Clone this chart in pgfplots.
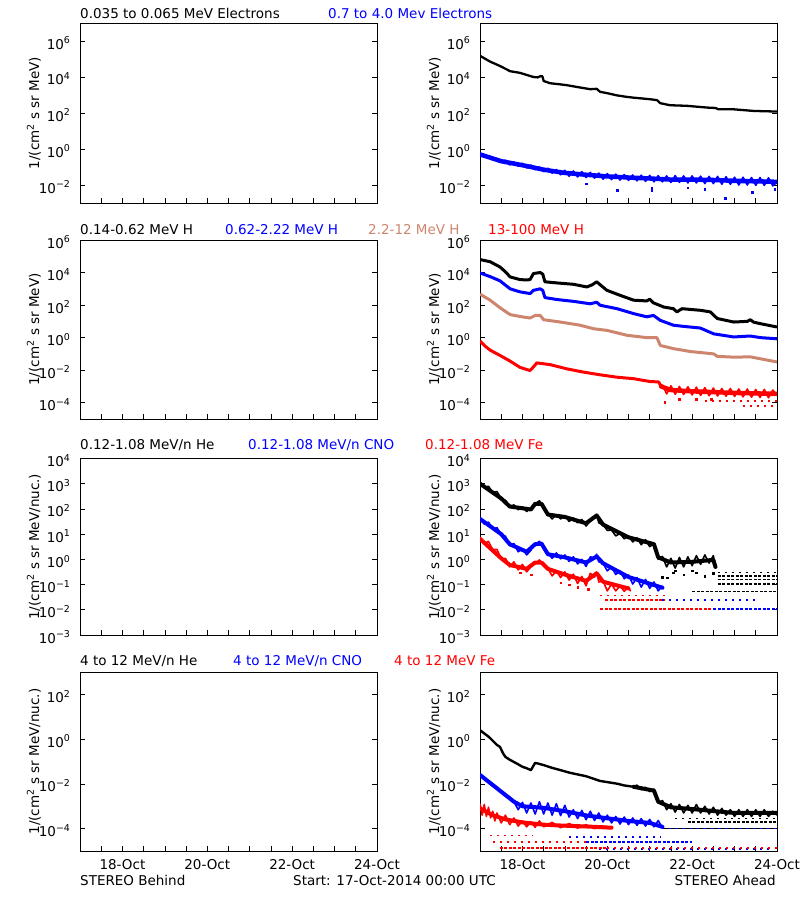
\documentclass[border=0pt]{standalone}
\usepackage{fontspec}
\setmainfont{DejaVu Sans}
\usepackage{pgfplots}
\pgfplotsset{compat=1.18}
\definecolor{tanc}{RGB}{205,133,110}
\definecolor{pblue}{RGB}{0,0,255}
\definecolor{pred}{RGB}{255,0,0}
\newcommand{\fs}{\fontsize{13.5}{15}\selectfont}
\pgfplotsset{
  mypanel/.style={
    scale only axis, width=297pt, xmin=0, xmax=7,
    xtick={0.5,1,1.5,2,2.5,3,3.5,4,4.5,5,5.5,6,6.5,7},
    xticklabels={},
    xtick pos=bottom, ytick pos=both, tick align=inside,
    xminorticks=false, yminorticks=false,
    major tick length=5pt,
    tick style={black, line width=0.7pt},
    axis line style={black, line width=0.8pt},
    every tick label/.append style={font=\fs},
    yticklabel style={xshift=-6pt, yshift=-2pt},
    xticklabel style={yshift=-5pt},
    every axis label/.append style={font=\fs},
    every axis y label/.style={at={(axis description cs:-0.155,0.5)}, rotate=90, anchor=center},
  },
  mybottomrow/.style={xticklabels={,18-Oct,,,,20-Oct,,,,22-Oct,,,,24-Oct}},
  myrowA/.style={mypanel, height=180pt, ymin=1e-3, ymax=1e7,
    ytick={1e-2,1,1e2,1e4,1e6},
    yticklabels={10\textsuperscript{−2},10\textsuperscript{0},10\textsuperscript{2},10\textsuperscript{4},10\textsuperscript{6}},
    ylabel={1/(cm\textsuperscript{2} s sr MeV)}},
  myrowB/.style={mypanel, height=179pt, ymin=1e-5, ymax=1e6,
    ytick={1e-4,1e-2,1,1e2,1e4,1e6},
    yticklabels={10\textsuperscript{−4},10\textsuperscript{−2},10\textsuperscript{0},10\textsuperscript{2},10\textsuperscript{4},10\textsuperscript{6}},
    ylabel={1/(cm\textsuperscript{2} s sr MeV)}},
  myrowC/.style={mypanel, height=176.5pt, ymin=1e-3, ymax=1e4,
    ytick={1e-3,1e-2,1e-1,1,1e1,1e2,1e3,1e4},
    yticklabels={10\textsuperscript{−3},10\textsuperscript{−2},10\textsuperscript{−1},10\textsuperscript{0},10\textsuperscript{1},10\textsuperscript{2},10\textsuperscript{3},10\textsuperscript{4}},
    ylabel={1/(cm\textsuperscript{2} s sr MeV/nuc.)}},
  myrowD/.style={mypanel, mybottomrow, height=179pt, ymin=1e-5, ymax=1e3,
    ytick={1e-4,1e-2,1,1e2},
    yticklabels={10\textsuperscript{−4},10\textsuperscript{−2},10\textsuperscript{0},10\textsuperscript{2}},
    ylabel={1/(cm\textsuperscript{2} s sr MeV/nuc.)}},
  mysl/.style={mark=none, line width=2.6pt, line join=round},
  mynz/.style={mark=none, line width=1.6pt, line join=round},
  mybd/.style={mark=none, line width=4.5pt, line join=round, line cap=round},
  mylv/.style={mark=none, line width=1.6pt, dash pattern=on 3pt off 1.5pt},
  mylvs/.style={mark=none, line width=1.6pt, dash pattern=on 2pt off 5pt},
  myol/.style={only marks, mark=square*, mark size=0.8pt},
}
\begin{document}
\begin{tikzpicture}
\useasboundingbox (0pt,0pt) rectangle (800pt,900pt);

% ---------------- Row 1 ----------------
\begin{axis}[ymode=log, myrowA, at={(80pt,697pt)}, anchor=south west]
\end{axis}
\begin{axis}[ymode=log, myrowA, at={(480pt,697pt)}, anchor=south west]
\addplot[mysl, black, line width=2.3pt] coordinates {(0,1.5e5) (0.1,1.1e5) (0.24,7.1e4) (0.47,4.1e4) (0.71,2.1e4) (0.94,1.7e4) (1.1,1.3e4) (1.26,1.0e4) (1.36,9.5e3) (1.42,1.1e4) (1.47,1.1e4) (1.5,6.0e3) (1.65,4.5e3) (1.85,4.0e3) (2.05,3.5e3) (2.36,2.6e3) (2.6,2.1e3) (2.75,2.2e3) (2.83,1.5e3) (3.0,1.26e3) (3.23,9.5e2) (3.45,7.9e2) (3.62,7.1e2) (3.85,6.3e2) (4.01,5.8e2) (4.17,5.2e2) (4.25,3.5e2) (4.48,2.7e2) (4.88,2.5e2) (5.35,2.0e2) (5.55,1.9e2) (5.62,1.6e2) (5.98,1.6e2) (6.45,1.3e2) (7.0,1.2e2)};
\addplot[mybd, pblue] coordinates {(0,0.5) (0.5,0.21) (1,0.126) (1.5,0.071) (2,0.047) (2.5,0.037) (3,0.030) (3.5,0.026) (4,0.023) (4.5,0.020) (5,0.020) (5.5,0.019) (6,0.017) (6.5,0.016) (7,0.015)};
\addplot[mynz, pblue] coordinates {(0,0.55) (0.1,0.39) (0.2,0.40) (0.3,0.27) (0.4,0.29) (0.5,0.18) (0.6,0.24) (0.7,0.13) (0.8,0.19) (0.9,0.11) (1.0,0.16) (1.1,0.088) (1.2,0.13) (1.3,0.070) (1.4,0.10) (1.5,0.055) (1.6,0.085) (1.7,0.045) (1.8,0.072) (1.9,0.037) (2.0,0.065) (2.1,0.031) (2.2,0.060) (2.3,0.028) (2.4,0.055) (2.5,0.026) (2.6,0.050) (2.7,0.024) (2.8,0.046) (2.9,0.021) (3.0,0.043) (3.1,0.020) (3.2,0.040) (3.3,0.019) (3.4,0.038) (3.5,0.018) (3.6,0.036) (3.7,0.017) (3.8,0.035) (3.9,0.016) (4.0,0.034) (4.1,0.015) (4.2,0.033) (4.3,0.015) (4.4,0.032) (4.5,0.014) (4.6,0.033) (4.7,0.014) (4.8,0.032) (4.9,0.013) (5.0,0.032) (5.1,0.013) (5.2,0.031) (5.3,0.012) (5.4,0.030) (5.5,0.012) (5.6,0.030) (5.7,0.011) (5.8,0.029) (5.9,0.011) (6.0,0.027) (6.1,0.010) (6.2,0.027) (6.3,0.010) (6.4,0.026) (6.5,0.0095) (6.6,0.026) (6.7,0.0095) (6.8,0.025) (6.9,0.009) (7.0,0.014)};
\addplot[myol, pblue] coordinates {(3.23,0.0052) (4.05,0.0047) (4.05,0.0065) (5.78,0.0018) (6.41,0.004) (6.95,0.006) (2.5,0.012) (4.9,0.007) (5.3,0.006)};
\end{axis}

% ---------------- Row 2 ----------------
\begin{axis}[ymode=log, myrowB, at={(80pt,481pt)}, anchor=south west]
\end{axis}
\begin{axis}[ymode=log, myrowB, at={(480pt,481pt)}, anchor=south west]
\addplot[mysl, black, line width=3pt] coordinates {(0,6.3e4) (0.24,4.6e4) (0.47,2.2e4) (0.6,1.1e4) (0.71,5.4e3) (0.94,3.7e3) (1.1,3.5e3) (1.18,3.7e3) (1.26,8.7e3) (1.42,1.0e4) (1.48,7.9e3) (1.53,2.7e3) (1.81,2.3e3) (2.2,1.9e3) (2.52,1.3e3) (2.65,1.8e3) (2.75,2.7e3) (2.83,1.8e3) (2.99,8.1e2) (3.3,4.0e2) (3.62,2.0e2) (3.93,1.8e2) (4.0,2.3e2) (4.08,1.4e2) (4.33,76) (4.56,60) (4.64,38) (4.76,60) (5.19,48) (5.43,38) (5.59,15) (5.98,9.1) (6.3,10) (6.37,12.6) (6.45,8.9) (6.61,7.2) (7.0,4.5)};
\addplot[mysl, pblue, line width=3pt] coordinates {(0,9.5e3) (0.24,5.6e3) (0.47,3.1e3) (0.71,1.0e3) (0.94,6.5e2) (1.18,5.1e2) (1.26,8.1e2) (1.42,1.0e3) (1.48,7.9e2) (1.53,2.9e2) (1.81,2.2e2) (2.2,1.7e2) (2.6,1.2e2) (2.75,1.5e2) (2.83,98) (3.23,60) (3.62,30) (3.93,19) (4.09,23) (4.25,11.5) (4.56,5.8) (4.8,4.9) (5.19,3.9) (5.51,1.7) (5.98,1.1) (6.37,1.26) (6.61,1.0) (7.0,0.85)};
\addplot[mysl, tanc, line width=3pt] coordinates {(0,4.7e2) (0.24,2.0e2) (0.47,69) (0.71,26) (0.94,20) (1.18,16) (1.3,23) (1.42,23) (1.5,12.6) (1.89,9.1) (2.36,5.8) (2.68,3.5) (2.99,2.8) (3.46,1.4) (3.93,1.0) (4.17,1.0) (4.25,0.33) (4.56,0.21) (4.96,0.14) (5.51,0.10) (5.59,0.071) (5.98,0.063) (6.37,0.066) (6.61,0.050) (7.0,0.032)};
\addplot[mysl, pred, line width=3pt] coordinates {(0,0.62) (0.12,0.30) (0.24,0.17) (0.47,0.081) (0.71,0.036) (0.94,0.015) (1.1,0.011) (1.18,0.0095) (1.26,0.016) (1.34,0.028) (1.65,0.022) (2.05,0.012) (2.44,0.0076) (2.83,0.0052) (3.23,0.0037) (3.62,0.0030) (4.01,0.0020) (4.21,0.0019) (4.27,0.0010)};
\addplot[mybd, pred] coordinates {(4.27,1e-3) (4.5,6e-4) (5,5e-4) (6,4e-4) (7,3.5e-4)};
\addplot[mynz, pred] coordinates {(4.27,0.0010) (4.3,1.2e-3) (4.4,3.5e-4) (4.5,1.1e-3) (4.6,3.3e-4) (4.7,1.0e-3) (4.8,3.2e-4) (4.9,9.5e-4) (5.0,3.0e-4) (5.1,9.0e-4) (5.2,2.8e-4) (5.3,8.5e-4) (5.4,2.7e-4) (5.5,8.0e-4) (5.6,2.6e-4) (5.7,7.5e-4) (5.8,2.5e-4) (5.9,7.5e-4) (6.0,2.4e-4) (6.1,7.0e-4) (6.2,2.3e-4) (6.3,7.0e-4) (6.4,2.2e-4) (6.5,6.5e-4) (6.6,2.1e-4) (6.7,6.5e-4) (6.8,2.0e-4) (6.9,6.0e-4) (7.0,3.0e-4)};
\addplot[mylvs, pred] coordinates {(5.3,1.3e-4) (7,1.3e-4)};
\addplot[mylvs, pred] coordinates {(6.2,6.5e-5) (7,6.5e-5)};
\addplot[myol, pred] coordinates {(4.35,1.1e-4) (5.1,1.6e-4) (5.45,1.7e-4) (4.7,1.6e-4)};
\end{axis}

% ---------------- Row 3 ----------------
\begin{axis}[ymode=log, myrowC, at={(80pt,265pt)}, anchor=south west]
\end{axis}
\begin{axis}[ymode=log, myrowC, at={(480pt,265pt)}, anchor=south west]
\addplot[mybd, black, line width=4pt] coordinates {(0,1e3) (0.5,2.6e2) (0.7,1.25e2) (1.2,95) (1.3,1.6e2) (1.45,1.6e2) (1.6,60) (2.0,48) (2.5,27) (2.75,55) (2.9,24) (3.5,7.5) (4.1,4.0) (4.2,1.2) (4.5,0.75) (5.0,0.8) (5.5,0.95) (5.55,0.5)};
\addplot[mynz, black, line width=1.6pt] coordinates {(0,1.1e3) (0.1,7.1e2) (0.2,7.9e2) (0.3,4.5e2) (0.4,4.9e2) (0.5,2.5e2) (0.6,2.2e2) (0.7,1.2e2) (0.8,1.45e2) (0.9,93) (1.0,1.2e2) (1.1,79) (1.2,1.1e2) (1.25,1.4e2) (1.3,1.6e2) (1.4,2.1e2) (1.5,1.2e2) (1.6,63) (1.7,40) (1.8,59) (1.9,40) (2.0,54) (2.1,32) (2.2,44) (2.3,28) (2.4,38) (2.5,21) (2.6,34) (2.7,45) (2.75,60) (2.8,28) (2.9,24) (3.0,14) (3.1,14.5) (3.2,8.5) (3.3,10.7) (3.4,6.5) (3.5,8.5) (3.6,4.9) (3.7,7.1) (3.8,3.8) (3.9,6.0) (4.0,3.2) (4.1,4.2) (4.2,1.0) (4.3,1.3) (4.4,0.50) (4.5,1.1) (4.6,0.45) (4.7,1.2) (4.8,0.50) (4.9,1.26) (5.0,0.56) (5.1,1.4) (5.2,0.63) (5.3,1.5) (5.4,0.71) (5.5,1.4) (5.55,0.5)};
\addplot[myol, black] coordinates {(4.3,0.2) (4.41,0.19) (4.56,0.3) (4.8,0.25) (5.1,0.3) (5.3,0.22) (5.5,0.28) (4.6,0.35) (5.0,0.35)};
\addplot[mylvs, black] coordinates {(5.6,0.3) (7,0.3)};
\addplot[mylv, black] coordinates {(5.6,0.22) (7,0.22)};
\addplot[mylv, black] coordinates {(5.6,0.16) (7,0.16)};
\addplot[mylv, black] coordinates {(5.6,0.107) (7,0.107)};
\addplot[mylv, black] coordinates {(5.0,0.054) (7,0.054)};
\addplot[mybd, pblue, line width=4pt] coordinates {(0,40) (0.5,10) (0.7,4) (1.1,2) (1.3,4) (1.45,4.2) (1.6,1.6) (2,1.2) (2.5,0.75) (2.75,1.3) (2.9,0.7) (3.5,0.2) (4.3,0.075)};
\addplot[mynz, pblue] coordinates {(0,45) (0.1,25) (0.2,30) (0.3,16) (0.4,18) (0.5,9.5) (0.6,8.3) (0.7,3.5) (0.8,4.2) (0.9,2.0) (1.0,2.6) (1.1,1.5) (1.2,2.3) (1.25,3.5) (1.3,3.8) (1.4,5.2) (1.5,2.8) (1.6,1.8) (1.7,1.1) (1.8,1.8) (1.9,1.05) (2.0,1.5) (2.1,0.83) (2.2,1.26) (2.3,0.66) (2.4,1.0) (2.5,0.52) (2.6,1.26) (2.7,1.1) (2.75,1.6) (2.8,0.8) (2.9,0.7) (3.0,0.35) (3.1,0.5) (3.2,0.25) (3.3,0.35) (3.4,0.17) (3.5,0.24) (3.6,0.105) (3.7,0.19) (3.8,0.079) (3.9,0.16) (4.0,0.071) (4.1,0.126) (4.2,0.056) (4.3,0.089)};
\addplot[mylvs, pblue] coordinates {(4.3,0.024) (6.5,0.024)};
\addplot[mybd, pred, line width=4pt] coordinates {(0,6.5) (0.5,1.1) (0.7,0.6) (1.1,0.42) (1.3,0.75) (1.45,0.75) (1.6,0.42) (2,0.25) (2.5,0.14) (2.75,0.28) (2.9,0.13) (3.5,0.07)};
\addplot[mynz, pred] coordinates {(0,7.6) (0.1,4.2) (0.2,5.2) (0.3,2.4) (0.4,2.5) (0.5,1.0) (0.6,1.1) (0.7,0.5) (0.8,0.8) (0.9,0.38) (1.0,0.63) (1.1,0.32) (1.2,0.52) (1.25,0.71) (1.3,0.66) (1.4,0.95) (1.5,0.56) (1.6,0.45) (1.7,0.22) (1.8,0.35) (1.9,0.19) (2.0,0.32) (2.1,0.15) (2.2,0.26) (2.3,0.11) (2.4,0.21) (2.5,0.089) (2.6,0.28) (2.7,0.2) (2.75,0.32) (2.8,0.126) (2.9,0.14) (3.0,0.056) (3.1,0.105) (3.2,0.056) (3.3,0.089) (3.4,0.054) (3.5,0.079) (3.55,0.054)};
\addplot[myol, pred] coordinates {(1.9,0.12) (2.1,0.1) (2.3,0.08) (2.55,0.065) (1.2,0.25) (0.95,0.3)};
\addplot[mylvs, pred] coordinates {(2.83,0.037) (4.4,0.037)};
\addplot[mylv, pred] coordinates {(2.95,0.024) (4.33,0.024)};
\addplot[mylv, pred] coordinates {(2.83,0.0107) (5.5,0.0107)};
\addplot[mylv, pblue] coordinates {(5.5,0.0107) (7,0.0107)};
\end{axis}

% ---------------- Row 4 ----------------
\begin{axis}[ymode=log, myrowD, at={(80pt,49pt)}, anchor=south west]
\end{axis}
\begin{axis}[ymode=log, myrowD, at={(480pt,49pt)}, anchor=south west]
\addplot[mysl, black, line width=2.4pt] coordinates {(0,2.5) (0.1,1.8) (0.2,1.3) (0.3,0.85) (0.4,0.55) (0.47,0.45) (0.55,0.22) (0.6,0.16) (0.7,0.12) (0.8,0.095) (0.9,0.075) (1.0,0.058) (1.1,0.050) (1.2,0.041) (1.25,0.06) (1.3,0.087) (1.4,0.078) (1.5,0.069) (1.7,0.052) (1.9,0.041) (2.1,0.032) (2.2,0.029) (2.5,0.022) (2.83,0.0135) (3.0,0.012) (3.23,0.0102) (3.4,0.0085) (3.62,0.0074)};
\addplot[mybd, black, line width=4pt] coordinates {(3.62,0.0074) (4.1,0.005) (4.2,0.0016) (4.5,0.0009) (5,0.00075) (6,0.0005) (7,0.0005)};
\addplot[mynz, black, line width=1.6pt] coordinates {(3.62,0.0074) (3.7,0.0088) (3.8,0.0055) (3.9,0.0070) (4.0,0.0045) (4.1,0.0058) (4.15,0.0035) (4.2,0.0014) (4.3,0.0018) (4.4,0.0007) (4.5,0.0013) (4.6,0.00055) (4.7,0.0012) (4.8,0.0005) (4.9,0.0011) (5.0,0.0005) (5.1,0.0012) (5.2,0.0005) (5.3,0.0010) (5.4,0.00045) (5.5,0.0009) (5.6,0.0004) (5.7,0.0008) (5.8,0.0004) (5.9,0.0007) (6.0,0.00035) (6.1,0.0007) (6.2,0.00035) (6.3,0.0007) (6.4,0.00035) (6.5,0.0007) (6.6,0.00035) (6.7,0.0007) (6.8,0.00035) (6.9,0.0006) (7.0,0.0004)};
\addplot[mylvs, black] coordinates {(4.6,2.8e-4) (7,2.8e-4)};
\addplot[mylv, black] coordinates {(4.9,2.0e-4) (7,2.0e-4)};
\addplot[mark=none, black, line width=0.9pt] coordinates {(4.3,1e-4) (7,1e-4)};
\addplot[mybd, pblue, line width=4pt] coordinates {(0,0.025) (0.8,0.0016) (1,1e-3) (1.5,8.5e-4) (2,6e-4) (2.5,3.9e-4) (3,2.9e-4) (3.5,2.2e-4) (4,1.8e-4) (4.3,1.2e-4)};
\addplot[mynz, pblue] coordinates {(0,0.025) (0.12,0.017) (0.24,0.012) (0.35,0.0078) (0.47,0.0052) (0.6,0.0033) (0.71,0.0022) (0.8,0.0016) (0.9,7e-4) (1.0,1.5e-3) (1.1,5e-4) (1.2,1.4e-3) (1.3,4.5e-4) (1.4,1.6e-3) (1.5,4.5e-4) (1.6,1.4e-3) (1.7,4e-4) (1.8,1.3e-3) (1.9,3.8e-4) (2.0,1.1e-3) (2.1,3.3e-4) (2.2,7e-4) (2.3,2.8e-4) (2.4,6.5e-4) (2.5,2.5e-4) (2.6,6e-4) (2.7,2.3e-4) (2.8,5e-4) (2.9,2e-4) (3.0,4e-4) (3.1,1.8e-4) (3.2,3.5e-4) (3.3,1.6e-4) (3.4,3.3e-4) (3.5,1.5e-4) (3.6,3e-4) (3.7,1.4e-4) (3.8,2.8e-4) (3.9,1.3e-4) (4.0,2.6e-4) (4.1,1.2e-4) (4.2,2.3e-4) (4.3,1.1e-4)};
\addplot[mylvs, pblue] coordinates {(4.3,1e-4) (7,1e-4)};
\addplot[mylvs, pblue] coordinates {(2.1,4.3e-5) (4.25,4.3e-5)};
\addplot[mylv, pblue] coordinates {(2.5,2.5e-5) (5.0,2.5e-5)};
\addplot[mylvs, pblue] coordinates {(2.8,1.2e-5) (6.9,1.2e-5)};
\addplot[mybd, pred, line width=4pt] coordinates {(0,8e-4) (0.3,4e-4) (0.6,2.6e-4) (1,1.9e-4) (1.5,1.5e-4) (2,1.35e-4) (2.5,1.25e-4) (3.1,1.1e-4)};
\addplot[mynz, pred] coordinates {(0,1.3e-3) (0.05,4e-4) (0.1,1.2e-3) (0.15,3.5e-4) (0.2,9e-4) (0.25,3e-4) (0.3,6e-4) (0.35,2.2e-4) (0.4,5e-4) (0.5,1.8e-4) (0.6,4e-4) (0.7,1.5e-4) (0.8,3e-4) (0.9,1.3e-4) (1.0,2.2e-4) (1.1,1.2e-4) (1.2,2e-4) (1.3,1.15e-4) (1.4,2.2e-4) (1.5,1.2e-4) (1.7,1.9e-4) (1.9,1.1e-4) (2.1,1.7e-4) (2.3,1.05e-4) (2.5,1.5e-4) (2.7,1e-4) (2.9,1.3e-4) (3.1,1.0e-4)};
\addplot[mylvs, pred] coordinates {(0.24,5e-5) (1.26,5e-5)};
\addplot[mylvs, pred] coordinates {(0.3,2.5e-5) (2.5,2.5e-5)};
\addplot[mylv, pred] coordinates {(0.47,1.4e-5) (3.0,1.4e-5)};
\addplot[mylvs, pred] coordinates {(3.0,1.4e-5) (7,1.4e-5)};
\end{axis}

% ---------------- Titles ----------------
\begin{scope}[every node/.style={inner sep=0pt, font=\fs}]
\node[anchor=base west] at (80pt,881.7pt) {0.035 to 0.065 MeV Electrons};
\node[anchor=base west, text=pblue] at (328pt,881.7pt) {0.7 to 4.0 Mev Electrons};
\node[anchor=base west] at (80pt,665pt) {0.14-0.62 MeV H};
\node[anchor=base west, text=pblue] at (225pt,665pt) {0.62-2.22 MeV H};
\node[anchor=base west, text=tanc] at (368pt,665pt) {2.2-12 MeV H};
\node[anchor=base west, text=pred] at (488pt,665pt) {13-100 MeV H};
\node[anchor=base west] at (80pt,450pt) {0.12-1.08 MeV/n He};
\node[anchor=base west, text=pblue] at (248pt,450pt) {0.12-1.08 MeV/n CNO};
\node[anchor=base west, text=pred] at (425pt,450pt) {0.12-1.08 MeV Fe};
\node[anchor=base west] at (80pt,234pt) {4 to 12 MeV/n He};
\node[anchor=base west, text=pblue] at (233pt,234pt) {4 to 12 MeV/n CNO};
\node[anchor=base west, text=pred] at (394pt,234pt) {4 to 12 MeV Fe};
\node[anchor=base west] at (80pt,14pt) {STEREO Behind};
\node[anchor=base west] at (293pt,14pt) {Start: 17-Oct-2014 00:00 UTC};
\node[anchor=base east] at (776pt,14pt) {STEREO Ahead};
\end{scope}
\end{tikzpicture}
\end{document}
